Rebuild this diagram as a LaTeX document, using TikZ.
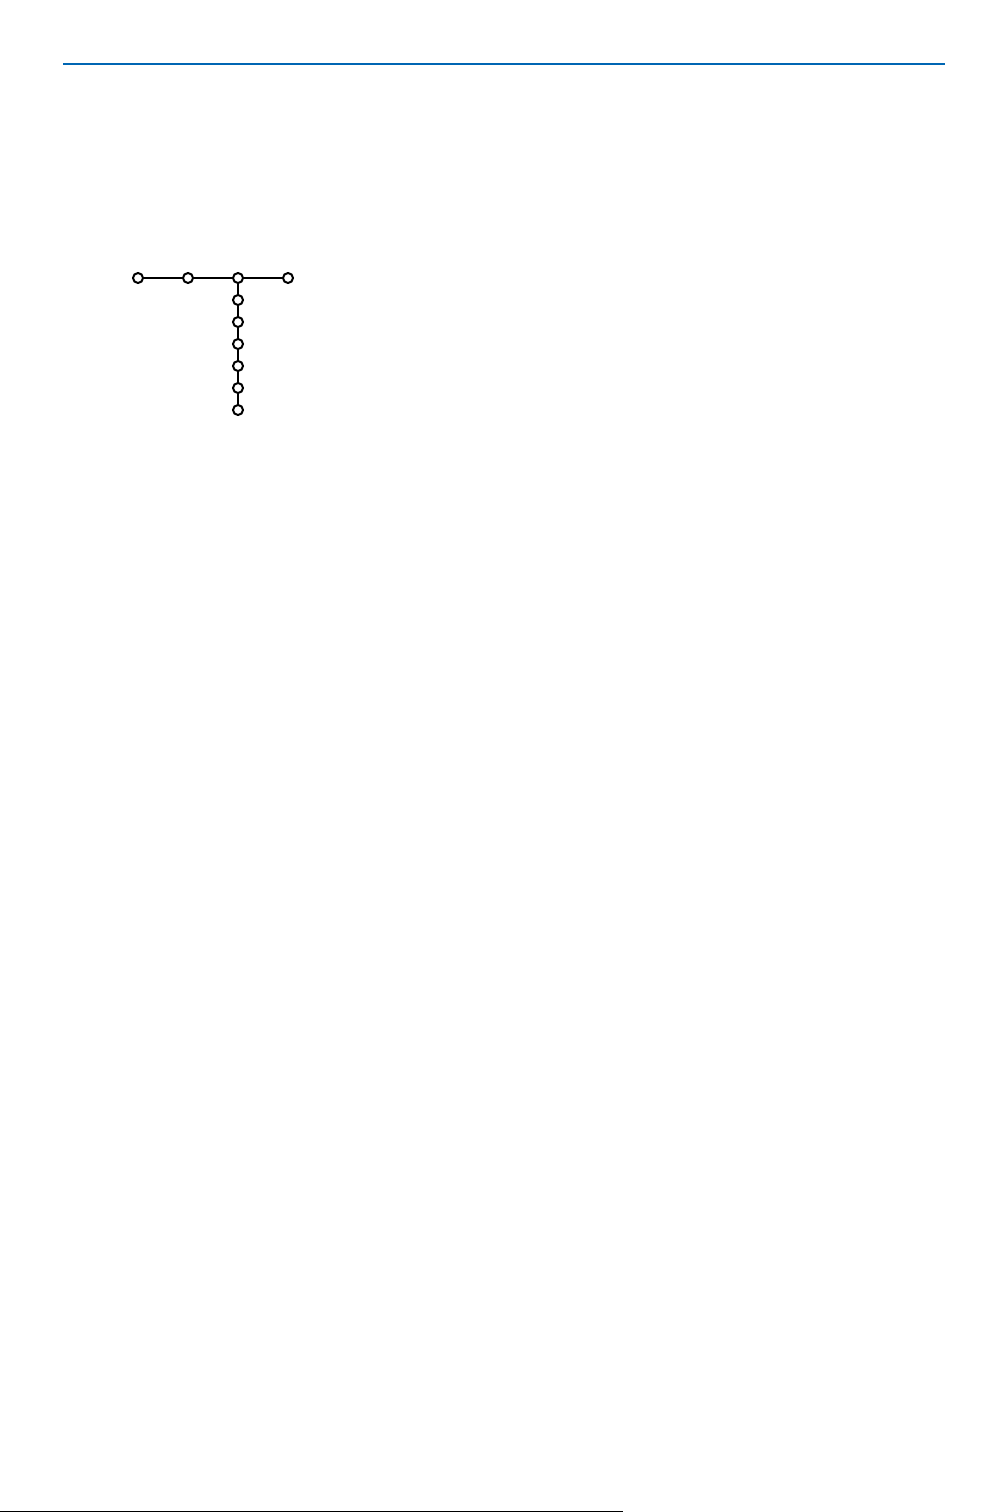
\documentclass[tikz,border=0pt]{standalone}
\usetikzlibrary{positioning}
\definecolor{ruleblue}{RGB}{0,102,179}
\begin{document}
\begin{tikzpicture}[x=1pt,y=-1pt,line cap=butt,line join=miter]
			\tikzset{menudot/.style={circle,draw,line width=2pt,fill=white,minimum size=10pt,inner sep=0pt},
				link/.style={line width=1.9pt}
			}
			\useasboundingbox (0,0) rectangle (1008,1512);
			\draw[ruleblue,line width=2.2pt] (63,64)--(945,64);
			\draw[line width=1pt] (0,1511.6)--(623,1511.6);
			% top row
			\foreach \i/\x in {1/138,2/188,3/238,4/288}
				\node[menudot] (h\i) at (\x,278) {};
			% column under the third item
			\foreach \i in {1,...,6}
				\node[menudot] (v\i) at (238,{278+22*\i}) {};
			\draw[link] (h1)--(h2) (h2)--(h3) (h3)--(h4);
			\draw[link] (h3)--(v1) (v1)--(v2) (v2)--(v3) (v3)--(v4) (v4)--(v5) (v5)--(v6);
		\end{tikzpicture}
\end{document}
